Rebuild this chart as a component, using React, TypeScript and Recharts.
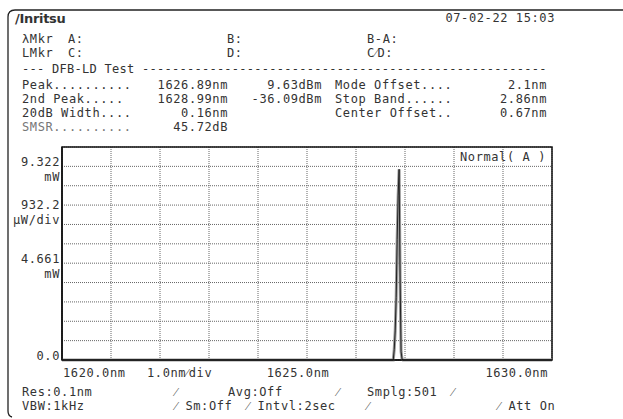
import { LineChart, Line, XAxis, YAxis, CartesianGrid, ReferenceArea } from "recharts"

// spectrum trace (mW) around the DFB peak, 0.02 nm sampling
const wavelength = [1620.0, 1626.76, 1626.78, 1626.8, 1626.82, 1626.84, 1626.86, 1626.88, 1626.9, 1626.92, 1626.94, 1626.96, 1630.0]
const powerMw = [0, 0, 0.5, 1.4, 3.0, 5.8, 7.9, 9.18, 3.9, 0.4, 0.05, 0, 0]

const xTicks = [1620, 1621, 1622, 1623, 1624, 1625, 1626, 1627, 1628, 1629, 1630]
const xTickLabels = ["1620.0nm", "", "", "", "", "1625.0nm", "", "", "", "", "1630.0nm"]

const yTicks = [0, 0.9322, 1.8644, 2.7966, 3.7288, 4.661, 5.5932, 6.5254, 7.4576, 8.3898, 9.322, 10.2542]
const yTickValues = ["0.0", "", "", "", "", "4.661", "", "", "932.2", "", "9.322", ""]
const yTickUnits = ["", "", "", "", "", "mW", "", "", "µW/div", "", "mW", ""]

const markerRows = [
  ["λMkr", "A:", "B:", "B-A:"],
  ["LMkr", "C:", "D:", "C⁄D:"],
]

const resultLabels = ["Peak..........", "2nd  Peak.....", "20dB Width....", "SMSR.........."]
const resultValues = ["1626.89nm", "1628.99nm", "0.16nm", "45.72dB"]
const resultLevels = ["9.63dBm", "-36.09dBm", "", ""]
const offsetLabels = ["Mode Offset....", "Stop Band......", "Center Offset..", ""]
const offsetValues = ["2.1nm", "2.86nm", "0.67nm", ""]

const data = wavelength.map((wl, i) => ({ wl, p: powerMw[i] }))

const FONT = "'DejaVu Sans Mono', monospace"
const INK = "#333"
const FS = 12
const LS = 0.6

const YTick = ({ x, y, index }: any) => {
  const v = yTickValues[index]
  if (!v) return <g />
  const perDiv = yTickUnits[index] === "µW/div"
  return (
    <g fontFamily={FONT} fontSize={FS} letterSpacing={LS} fill={INK}>
      <text x={x} y={perDiv ? y : y - 4} textAnchor="end" dominantBaseline="central">{v}</text>
      <text x={x} y={perDiv ? y + 15 : y + 11} textAnchor="end" dominantBaseline="central">{yTickUnits[index]}</text>
    </g>
  )
}

const XTick = ({ x, y, index }: any) => {
  const t = xTickLabels[index]
  if (!t) return <g />
  const anchor = index === 0 ? "start" : index === 10 ? "end" : "middle"
  const dx = index === 0 ? 1 : index === 10 ? -4 : -9
  return (
    <text x={x + dx} y={y + 11} textAnchor={anchor} dominantBaseline="central" fontFamily={FONT} fontSize={FS} letterSpacing={LS} fill={INK}>
      {t}
    </text>
  )
}

export default function App() {
  const rowY = [85, 99, 113, 127]
  return (
    <div style={{ position: "absolute", left: 0, top: 0, width: 623, height: 419, background: "#fff" }}>
      <LineChart width={623} height={419} data={data} margin={{ top: 147, right: 71, bottom: 0, left: 0 }}>
        <CartesianGrid stroke="#666" strokeDasharray="1 1" />
        <XAxis
          dataKey="wl"
          type="number"
          domain={[1620, 1630]}
          ticks={xTicks}
          interval={0}
          height={59}
          tickLine={false}
          tickSize={0}
          axisLine={{ stroke: "#111", strokeWidth: 1.5 }}
          tick={<XTick />}
        />
        <YAxis
          type="number"
          domain={[0, 10.2542]}
          ticks={yTicks}
          interval={0}
          width={62}
          tickLine={false}
          tickSize={0}
          axisLine={{ stroke: "#111", strokeWidth: 1.5 }}
          tick={<YTick />}
        />
        <ReferenceArea x1={1620} x2={1630} y1={0} y2={10.2542} fill="none" stroke="#111" strokeWidth={1.5} />
        <Line type="linear" dataKey="p" stroke="#999" strokeWidth={3} dot={false} isAnimationActive={false} />
        <Line type="linear" dataKey="p" stroke="#222" strokeWidth={1} dot={false} isAnimationActive={false} />
      </LineChart>
      <svg width={623} height={419} style={{ position: "absolute", left: 0, top: 0, pointerEvents: "none" }}>
        <path d="M623,10 H15 Q8,10 8,17 V411 Q8,416 12,417" fill="none" stroke="#222" strokeWidth={1.3} />
        <g fontFamily={FONT} fontSize={FS} letterSpacing={LS} fill={INK} dominantBaseline="central">
          <text x={15} y={18} fontFamily="'DejaVu Sans', sans-serif" fontWeight="bold" fontSize={13} letterSpacing={-0.3}>/Inritsu</text>
          <text x={555} y={18} textAnchor="end">07-02-22 15:03</text>
          {markerRows.map((r, i) => (
            <g key={i}>
              <text x={22} y={39 + i * 14}>{r[0]}</text>
              <text x={68} y={39 + i * 14}>{r[1]}</text>
              <text x={227} y={39 + i * 14}>{r[2]}</text>
              <text x={367} y={39 + i * 14}>{r[3]}</text>
            </g>
          ))}
          <text x={22} y={69} textLength={525} lengthAdjust="spacing">
            --- DFB-LD Test ------------------------------------------------------
          </text>
          {resultLabels.map((l, i) => (
            <g key={l}>
              <text x={22} y={rowY[i]} fill={i === 3 ? "#777" : INK}>{l}</text>
              <text x={228} y={rowY[i]} textAnchor="end">{resultValues[i]}</text>
              <text x={322} y={rowY[i]} textAnchor="end">{resultLevels[i]}</text>
              <text x={335} y={rowY[i]}>{offsetLabels[i]}</text>
              <text x={547} y={rowY[i]} textAnchor="end">{offsetValues[i]}</text>
            </g>
          ))}
          <text x={460} y={157}>Normal( A )</text>
          <text x={147} y={373}>1.0nm⁄div</text>
          <text x={22} y={392}>Res:0.1nm</text>
          <text x={22} y={406}>VBW:1kHz</text>
          <text x={175} y={392}>⁄</text>
          <text x={228} y={392}>Avg:Off</text>
          <text x={337} y={392}>⁄</text>
          <text x={367} y={392}>Smplg:501</text>
          <text x={452} y={392}>⁄</text>
          <text x={175} y={406}>⁄ Sm:Off</text>
          <text x={247} y={406}>⁄ Intvl:2sec</text>
          <text x={367} y={406}>⁄</text>
          <text x={498} y={406}>⁄ Att On</text>
        </g>
      </svg>
    </div>
  )
}
